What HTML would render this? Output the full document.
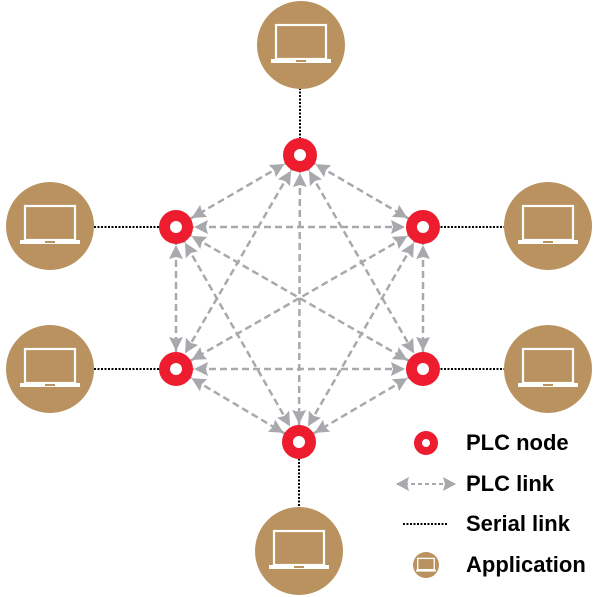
<!DOCTYPE html>
<html><head><meta charset="utf-8"><style>
html,body{margin:0;padding:0;background:#fff;}
svg{display:block}
text{font-family:"Liberation Sans",Arial,sans-serif;font-weight:bold;font-size:22px;fill:#000}
</style></head><body>
<svg width="601" height="597" viewBox="0 0 601 597" xmlns="http://www.w3.org/2000/svg">
<defs>
<marker id="a" markerUnits="userSpaceOnUse" viewBox="-36 -9 38 18" refX="0" refY="0" markerWidth="38" markerHeight="18" orient="auto-start-reverse">
<path d="M-18,0 L-32,-7 L-30,0 L-32,7 Z" fill="#a7a9ac"/>
</marker>
<marker id="s" markerUnits="userSpaceOnUse" viewBox="0 -9 16 18" refX="13" refY="0" markerWidth="16" markerHeight="18" orient="auto-start-reverse">
<path d="M14,0 L1,-7 L3,0 L1,7 Z" fill="#a7a9ac"/>
</marker>
<g id="lap">
<rect x="-25" y="-20" width="50" height="34" fill="none" stroke="#fff" stroke-width="2.2"/>
<rect x="-30" y="14" width="60" height="4" fill="#fff"/>
<rect x="-5" y="15" width="10" height="2" fill="#b9925f"/>
</g>
</defs>
<g stroke="#000" stroke-width="2" stroke-dasharray="2,1.5">
<line x1="300" y1="88" x2="300" y2="150"/>
<line x1="94" y1="227" x2="170" y2="227"/>
<line x1="94" y1="369" x2="170" y2="369"/>
<line x1="430" y1="227" x2="505" y2="227"/>
<line x1="430" y1="369" x2="505" y2="369"/>
<line x1="299" y1="448" x2="299" y2="507"/>
</g>
<g stroke="#a7a9ac" stroke-width="2.5" stroke-dasharray="7,4" marker-start="url(#a)" marker-end="url(#a)" fill="none">
<line x1="300" y1="155" x2="176" y2="227"/>
<line x1="300" y1="155" x2="423" y2="227"/>
<line x1="300" y1="155" x2="176" y2="369"/>
<line x1="300" y1="155" x2="423" y2="369"/>
<line x1="300" y1="155" x2="299" y2="442"/>
<line x1="176" y1="227" x2="423" y2="227"/>
<line x1="176" y1="227" x2="176" y2="369"/>
<line x1="176" y1="227" x2="423" y2="369"/>
<line x1="176" y1="227" x2="299" y2="442"/>
<line x1="423" y1="227" x2="176" y2="369"/>
<line x1="423" y1="227" x2="423" y2="369"/>
<line x1="423" y1="227" x2="299" y2="442"/>
<line x1="176" y1="369" x2="423" y2="369"/>
<line x1="176" y1="369" x2="299" y2="442"/>
<line x1="423" y1="369" x2="299" y2="442"/>
</g>
<g fill="#fff" stroke="#ed1c2e" stroke-width="11">
<circle cx="300" cy="155" r="11.5"/>
<circle cx="176" cy="227" r="11.5"/>
<circle cx="423" cy="227" r="11.5"/>
<circle cx="176" cy="369" r="11.5"/>
<circle cx="423" cy="369" r="11.5"/>
<circle cx="299" cy="442" r="11.5"/>
<circle cx="426" cy="443" r="8" stroke-width="8"/>
</g>
<g fill="#b9925f">
<circle cx="301" cy="45" r="44"/>
<circle cx="50" cy="226" r="44"/>
<circle cx="50" cy="369" r="44"/>
<circle cx="548" cy="226" r="44"/>
<circle cx="548" cy="369" r="44"/>
<circle cx="299" cy="551" r="44"/>
<circle cx="426" cy="565" r="13"/>
</g>
<use href="#lap" x="301" y="45"/>
<use href="#lap" x="50" y="226"/>
<use href="#lap" x="50" y="369"/>
<use href="#lap" x="548" y="226"/>
<use href="#lap" x="548" y="369"/>
<use href="#lap" x="299" y="551"/>
<g transform="translate(426,565) scale(0.33)">
<rect x="-25" y="-20" width="50" height="34" fill="none" stroke="#fff" stroke-width="4"/>
<rect x="-30" y="14" width="60" height="6" fill="#fff"/>
</g>
<line x1="397" y1="484" x2="455" y2="484" stroke="#a7a9ac" stroke-width="2" stroke-dasharray="4,3" marker-start="url(#s)" marker-end="url(#s)"/>
<line x1="403" y1="524" x2="447" y2="524" stroke="#000" stroke-width="2" stroke-dasharray="2,1.5"/>
<text x="466" y="450">PLC node</text>
<text x="466" y="491">PLC link</text>
<text x="466" y="531">Serial link</text>
<text x="466" y="572">Application</text>
</svg>
</body></html>
